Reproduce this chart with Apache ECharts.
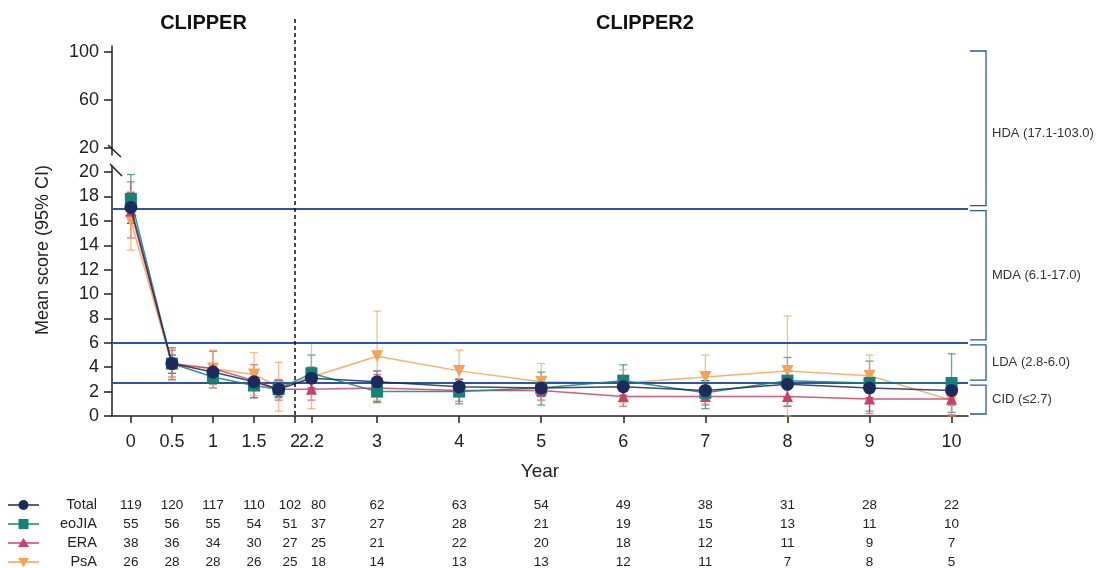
<!DOCTYPE html>
<html><head><meta charset="utf-8">
<script src="https://cdn.jsdelivr.net/npm/echarts@6/dist/echarts.min.js"></script>
<style>html,body{margin:0;padding:0;background:#fff}#c{width:1110px;height:568px}</style>
</head><body><div id="c"></div>
<script>
// ---- data ----
const years = [0, 0.5, 1, 1.5, 1.8, 2.2, 3, 4, 5, 6, 7, 8, 9, 10];
const tickYears = [0, 0.5, 1, 1.5, 2, 2.2, 3, 4, 5, 6, 7, 8, 9, 10];
const tickLabels = ['0', '0.5', '1', '1.5', '2', '2.2', '3', '4', '5', '6', '7', '8', '9', '10'];
const lowerTicks = [0, 2, 4, 6, 8, 10, 12, 14, 16, 18, 20];
const upperTicks = [20, 60, 100];
const seriesNames = ['Total', 'eoJIA', 'ERA', 'PsA'];

const totalMean = [17.1, 4.3, 3.6, 2.8, 2.2, 3.1, 2.8, 2.4, 2.3, 2.4, 2.1, 2.6, 2.3, 2.1];
const totalLow  = [15.8, 3.5, 3.0, 2.1, 1.6, 2.3, 1.8, 1.7, 1.6, 1.7, 1.4, 1.5, 1.5, 0.9];
const totalHigh = [18.3, 5.0, 4.1, 3.5, 2.9, 4.0, 3.7, 3.0, 3.0, 3.2, 2.9, 3.7, 3.2, 3.1];

const eoMean = [17.8, 4.3, 3.2, 2.5, 2.2, 3.5, 2.0, 2.0, 2.3, 2.9, 1.9, 2.9, 2.7, 2.7];
const eoLow  = [15.8, 3.0, 2.3, 1.5, 1.5, 2.0, 1.1, 1.0, 0.9, 1.4, 0.6, 0.8, 0.4, 0.3];
const eoHigh = [19.8, 5.6, 4.1, 3.5, 2.9, 5.0, 2.9, 3.0, 3.6, 4.2, 2.9, 4.8, 4.5, 5.1];

const eraMean = [16.8, 4.3, 3.9, 2.9, 2.2, 2.2, 2.3, 2.1, 2.1, 1.6, 1.6, 1.6, 1.4, 1.4];
const eraLow  = [14.6, 3.2, 2.6, 1.5, 1.3, 1.3, 1.2, 1.2, 1.3, 0.8, 0.9, 0.8, 0.2, 0.1];
const eraHigh = [19.2, 5.4, 5.3, 4.2, 3.0, 3.2, 3.4, 3.0, 2.9, 2.6, 2.5, 2.4, 2.6, 2.7];

const psaMean = [16.0, 4.2, 3.9, 3.4, 2.4, 3.2, 4.9, 3.7, 2.8, 2.7, 3.2, 3.7, 3.3, 1.3];
const psaLow  = [13.6, 2.9, 2.3, 1.7, 0.4, 0.6, 1.3, 2.0, 1.3, 1.1, 1.0, 0.0, 1.3, 0.0];
const psaHigh = [18.4, 5.5, 5.4, 5.2, 4.4, 6.0, 8.6, 5.4, 4.3, 3.8, 5.0, 8.2, 5.0, 2.6];

const nTotal = [119, 120, 117, 110, 102, 80, 62, 63, 54, 49, 38, 31, 28, 22];
const nEo    = [55, 56, 55, 54, 51, 37, 27, 28, 21, 19, 15, 13, 11, 10];
const nEra   = [38, 36, 34, 30, 27, 25, 21, 22, 20, 18, 12, 11, 9, 7];
const nPsa   = [26, 28, 28, 26, 25, 18, 14, 13, 13, 12, 11, 7, 8, 5];

const refLines = [17, 6, 2.7];
const bandNames = ['HDA (17.1-103.0)', 'MDA (6.1-17.0)', 'LDA (2.8-6.0)', 'CID (\u22642.7)'];
const bandFrom  = [17, 6, 2.7, 0];
const bandTo    = [100, 17, 6, 2.7];

// ---- style ----
const FONT = '"Liberation Sans", Arial, sans-serif';
const colors = ['#1c2a5e', '#178079', '#cc3f66', '#f7a257'];
const symbols = ['circle', 'rect', 'triangle', 'triangle'];
const symbolSizes = [13, 12, 11, 12];
const symbolRot = [0, 0, 0, 180];
const means = [totalMean, eoMean, eraMean, psaMean];
const lows = [totalLow, eoLow, eraLow, psaLow];
const highs = [totalHigh, eoHigh, eraHigh, psaHigh];
const ns = [nTotal, nEo, nEra, nPsa];
const BLUE = '#2b55a5';
const AX = '#222';

const chart = echarts.init(document.getElementById('c'), null, { renderer: 'canvas' });

function errSeries(i) {
  return {
    type: 'custom', name: seriesNames[i] + ' CI', xAxisIndex: 1, yAxisIndex: 1,
    z: 2 + i * 0.01, silent: true, clip: false,
    data: years.map((x, k) => [x, lows[i][k], highs[i][k]]),
    renderItem(params, api) {
      const x = api.value(0);
      const p1 = api.coord([x, api.value(1)]);
      const p2 = api.coord([x, api.value(2)]);
      const w = 4;
      const style = { stroke: colors[i], lineWidth: 1.3, opacity: 0.7 };
      return {
        type: 'group', children: [
          { type: 'line', shape: { x1: p1[0], y1: p1[1], x2: p2[0], y2: p2[1] }, style },
          { type: 'line', shape: { x1: p1[0] - w, y1: p1[1], x2: p1[0] + w, y2: p1[1] }, style },
          { type: 'line', shape: { x1: p2[0] - w, y1: p2[1], x2: p2[0] + w, y2: p2[1] }, style }
        ]
      };
    }
  };
}

const order = [3, 2, 1, 0];
const series = [
  {
    type: 'line', name: 'ref', xAxisIndex: 1, yAxisIndex: 1, data: [], z: 1, silent: true,
    markLine: {
      symbol: 'none', silent: true, label: { show: false },
      lineStyle: { color: BLUE, width: 2, type: 'solid' },
      data: refLines.map(v => ({ yAxis: v }))
    }
  }
];
order.forEach(i => series.push(errSeries(i)));
order.forEach(i => series.push({
  type: 'line', name: seriesNames[i], xAxisIndex: 1, yAxisIndex: 1, z: 4 + (3 - i),
  data: years.map((x, k) => [x, means[i][k]]),
  symbol: symbols[i], symbolSize: symbolSizes[i], symbolRotate: symbolRot[i],
  showAllSymbol: true,
  itemStyle: { color: colors[i], opacity: 1 },
  lineStyle: { color: colors[i], width: 1.5, opacity: 0.85 },
  emphasis: { disabled: true }, animation: false
}));

const axisLine = { show: true, onZero: false, lineStyle: { color: AX, width: 1.5 } };
const labelStyle = { color: AX, fontFamily: FONT, fontSize: 18 };

chart.setOption({
  animation: false,
  backgroundColor: '#fff',
  textStyle: { fontFamily: FONT },
  grid: [
    { left: 112, right: 142, top: 46, height: 109 },
    { left: 112, right: 142, top: 166, bottom: 152 }
  ],
  xAxis: [
    { gridIndex: 0, type: 'value', min: -0.23, max: 10.2, show: false },
    {
      gridIndex: 1, type: 'value', min: -0.23, max: 10.2,
      axisLine: axisLine,
      axisTick: { show: true, customValues: tickYears, length: 7, lineStyle: { color: AX, width: 1.5 } },
      axisLabel: {
        show: true, customValues: tickYears, margin: 17, ...labelStyle,
        formatter: v => { const k = tickYears.findIndex(t => Math.abs(t - v) < 1e-6); return k >= 0 ? tickLabels[k] : ''; }
      },
      splitLine: { show: false },
      name: 'Year', nameLocation: 'middle', nameGap: 46,
      nameTextStyle: { color: AX, fontFamily: FONT, fontSize: 19 }
    }
  ],
  yAxis: [
    {
      gridIndex: 0, type: 'value', min: 14, max: 105,
      axisLine: axisLine,
      axisTick: { show: true, customValues: upperTicks, length: 8, lineStyle: { color: AX, width: 1.5 } },
      axisLabel: { show: true, customValues: upperTicks, margin: 13, ...labelStyle },
      splitLine: { show: false }
    },
    {
      gridIndex: 1, type: 'value', min: 0, max: 20.5,
      axisLine: axisLine,
      axisTick: { show: true, customValues: lowerTicks, length: 8, lineStyle: { color: AX, width: 1.5 } },
      axisLabel: { show: true, customValues: lowerTicks, margin: 13, ...labelStyle },
      splitLine: { show: false }
    }
  ],
  series: series
});

// ---- annotations derived from axes ----
const P = (x, y) => chart.convertToPixel({ gridIndex: 1 }, [x, y]);
const PU = (x, y) => chart.convertToPixel({ gridIndex: 0 }, [x, y]);
const g = [];

// dashed study separator at year 2
const xSep = P(2, 0)[0];
g.push({ type: 'line', shape: { x1: xSep, y1: 19, x2: xSep, y2: P(2, 0)[1] },
  style: { stroke: '#111', lineWidth: 1.5, lineDash: [4, 3] }, z: 20 });

// titles
const xLeftEdge = P(-0.23, 0)[0];
g.push({ type: 'text', x: (xLeftEdge + xSep) / 2, y: 23, style: { text: 'CLIPPER', font: 'bold 20px ' + FONT, fill: '#111', align: 'center', verticalAlign: 'middle' } });
g.push({ type: 'text', x: 645, y: 23, style: { text: 'CLIPPER2', font: 'bold 20px ' + FONT, fill: '#111', align: 'center', verticalAlign: 'middle' } });

// y axis name
g.push({ type: 'text', x: 43, y: 250, rotation: Math.PI / 2,
  style: { text: 'Mean score (95% CI)', font: '18px ' + FONT, fill: AX, align: 'center', verticalAlign: 'middle' } });

// axis break marks
const yUpBottom = PU(0, 14)[1];
const yLowTop = P(0, 20.5)[1];
g.push({ type: 'line', shape: { x1: xLeftEdge - 4, y1: yUpBottom - 10, x2: xLeftEdge + 9, y2: yUpBottom + 2 }, style: { stroke: AX, lineWidth: 1.5 }, z: 20 });
g.push({ type: 'line', shape: { x1: xLeftEdge - 2, y1: yLowTop - 2, x2: xLeftEdge + 10, y2: yLowTop + 10 }, style: { stroke: AX, lineWidth: 1.5 }, z: 20 });

// disease activity brackets
const bx1 = 970, bx2 = 986;
bandNames.forEach((name, i) => {
  const top = bandTo[i] === 100 ? PU(0, bandTo[i])[1] - 1 : P(0, bandTo[i])[1] + 2;
  const bot = P(0, bandFrom[i])[1] - (bandFrom[i] === 0 ? 2 : 3);
  g.push({ type: 'polyline', shape: { points: [[bx1, top], [bx2, top], [bx2, bot], [bx1, bot]] },
    style: { stroke: BLUE, lineWidth: 1.3, fill: null } });
  g.push({ type: 'text', x: bx2 + 6, y: (top + bot) / 2 + (i === 0 ? 5 : 0),
    style: { text: name, font: '13px ' + FONT, fill: '#333', align: 'left', verticalAlign: 'middle' } });
});

// N-at-risk table with legend icons
const rowY = [505, 524, 543, 562];
const colNudge = tickYears.map(t => (t === 2 ? -5 : (t === 2.2 ? 7 : 0)));
seriesNames.forEach((name, i) => {
  const y = rowY[i];
  g.push({ type: 'line', shape: { x1: 8, y1: y, x2: 39, y2: y }, style: { stroke: colors[i], lineWidth: 1.5 } });
  const c = colors[i];
  if (i === 0) g.push({ type: 'circle', shape: { cx: 23.5, cy: y, r: 5 }, style: { fill: c } });
  if (i === 1) g.push({ type: 'rect', shape: { x: 18.5, y: y - 5, width: 10, height: 10 }, style: { fill: c } });
  if (i === 2) g.push({ type: 'polygon', shape: { points: [[23.5, y - 5], [29, y + 4], [18, y + 4]] }, style: { fill: c } });
  if (i === 3) g.push({ type: 'polygon', shape: { points: [[23.5, y + 5], [29, y - 4], [18, y - 4]] }, style: { fill: c } });
  g.push({ type: 'text', x: 97, y: y, style: { text: name, font: '14.5px ' + FONT, fill: '#222', align: 'right', verticalAlign: 'middle' } });
  tickYears.forEach((t, k) => {
    g.push({ type: 'text', x: P(t, 0)[0] + colNudge[k], y: y, style: { text: String(ns[i][k]), font: '13.5px ' + FONT, fill: '#222', align: 'center', verticalAlign: 'middle' } });
  });
});

chart.setOption({ graphic: g });
</script>
</body></html>
